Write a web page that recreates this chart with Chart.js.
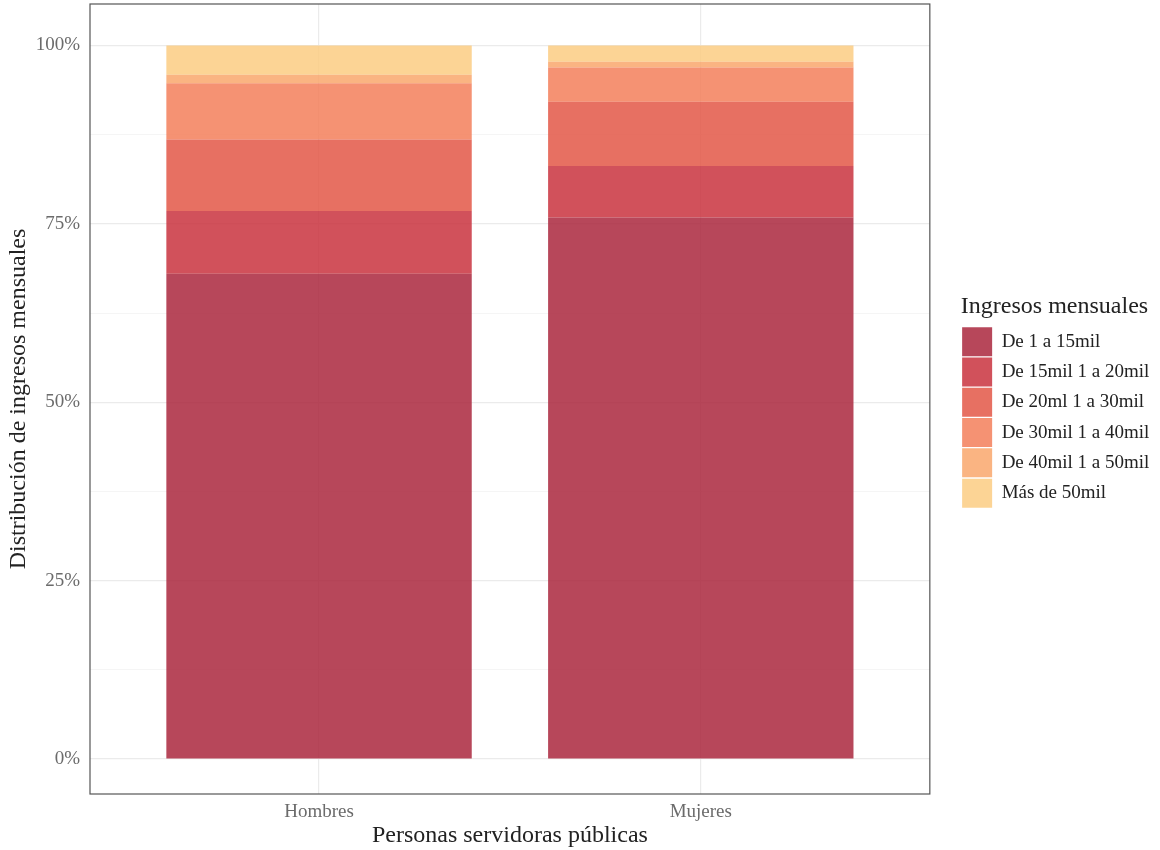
<!DOCTYPE html>
<html lang="es">
<head>
<meta charset="UTF-8">
<title>Ingresos mensuales</title>
<style>
  body { margin: 0; background: #fff; }
</style>
</head>
<body>
<canvas id="ingresosChart" width="1160" height="850"></canvas>
<script src="https://cdn.jsdelivr.net/npm/chart.js"></script>
<script>
// datos (porcentaje por categoria)
const categorias = ['Hombres', 'Mujeres'];
const rangos = ['De 1 a 15mil', 'De 15mil 1 a 20mil', 'De 20ml 1 a 30mil',
                'De 30mil 1 a 40mil', 'De 40mil 1 a 50mil', 'Más de 50mil'];
const de1a15 = [68.0, 75.9];
const de15a20 = [8.8, 7.2];
const de20a30 = [10.0, 9.0];
const de30a40 = [7.9, 4.8];
const de40a50 = [1.2, 0.8];
const mas50 = [4.1, 2.3];
const yTicks = [0, 12.5, 25, 37.5, 50, 62.5, 75, 87.5, 100];

const series = [de1a15, de15a20, de20a30, de30a40, de40a50, mas50];
const colores = [
    'rgba(170, 39, 61, 0.85)',
    'rgba(201, 50, 62, 0.85)',
    'rgba(227, 87, 70, 0.85)',
    'rgba(243, 127, 91, 0.85)',
    'rgba(249, 167, 108, 0.85)',
    'rgba(251, 204, 131, 0.85)'
];

const fuente = "'Liberation Serif', 'DejaVu Serif', serif";

const datasets = series.map((vals, i) => ({
    label: rangos[i],
    data: vals.map((v, j) => ({ x: j + 1, y: v })),
    backgroundColor: colores[i],
    borderWidth: 0,
    categoryPercentage: 1,
    barPercentage: 0.8
}));

// marco del panel
const marco = {
    id: 'marco',
    afterDraw(chart) {
        const { ctx, chartArea: a } = chart;
        ctx.save();
        ctx.strokeStyle = '#555';
        ctx.lineWidth = 1.2;
        ctx.strokeRect(a.left, a.top, a.right - a.left, a.bottom - a.top);
        ctx.restore();
    }
};

const ctx = document.getElementById('ingresosChart').getContext('2d');
new Chart(ctx, {
    type: 'bar',
    data: { datasets },
    plugins: [marco],
    options: {
        responsive: false,
        animation: false,
        layout: { padding: { top: 4, right: 7, bottom: 0, left: 0 } },
        scales: {
            x: {
                type: 'linear',
                min: 0.4,
                max: 2.6,
                stacked: true,
                offset: false,
                afterBuildTicks: s => { s.ticks = categorias.map((c, i) => ({ value: i + 1 })); },
                afterFit: s => { s.height = 56; s.paddingLeft = 0; s.paddingRight = 0; },
                grid: { color: '#ebebeb', lineWidth: 1.2, drawTicks: false, offset: false },
                border: { display: false },
                ticks: {
                    padding: 7,
                    color: '#6b6b6b',
                    font: { family: fuente, size: 19 },
                    callback: v => categorias[v - 1]
                },
                title: {
                    display: true,
                    text: 'Personas servidoras públicas',
                    color: '#222',
                    font: { family: fuente, size: 24 },
                    padding: { top: 1, bottom: 0 }
                }
            },
            y: {
                min: -4.9,
                max: 105.8,
                stacked: true,
                afterBuildTicks: s => { s.ticks = yTicks.map(v => ({ value: v })); },
                afterFit: s => { s.width = 90; s.paddingTop = 0; s.paddingBottom = 0; },
                grid: {
                    drawTicks: false,
                    color: c => (c.tick.value % 25 === 0 ? '#ebebeb' : '#f3f3f3'),
                    lineWidth: c => (c.tick.value % 25 === 0 ? 1.2 : 0.8)
                },
                border: { display: false },
                ticks: {
                    padding: 10,
                    color: '#6b6b6b',
                    font: { family: fuente, size: 19 },
                    callback: v => (v % 25 === 0 ? v + '%' : '')
                },
                title: {
                    display: true,
                    text: 'Distribución de ingresos mensuales',
                    color: '#222',
                    font: { family: fuente, size: 24 },
                    padding: { top: 4, bottom: 0 }
                }
            },
            espacio: {
                type: 'linear',
                position: 'right',
                display: true,
                afterFit: s => { s.width = 31; s.paddingTop = 0; s.paddingBottom = 0; },
                grid: { display: false },
                border: { display: false },
                ticks: { display: false }
            }
        },
        plugins: {
            tooltip: { enabled: false },
            legend: {
                position: 'right',
                align: 'center',
                fullSize: false,
                title: {
                    display: true,
                    text: 'Ingresos mensuales',
                    position: 'start',
                    color: '#222',
                    font: { family: fuente, size: 24 },
                    padding: { top: 6, bottom: 2 }
                },
                labels: {
                    boxWidth: 30,
                    boxHeight: 29,
                    padding: 1.3,
                    color: '#222',
                    font: { family: fuente, size: 19 }
                }
            }
        }
    }
});
</script>
</body>
</html>
